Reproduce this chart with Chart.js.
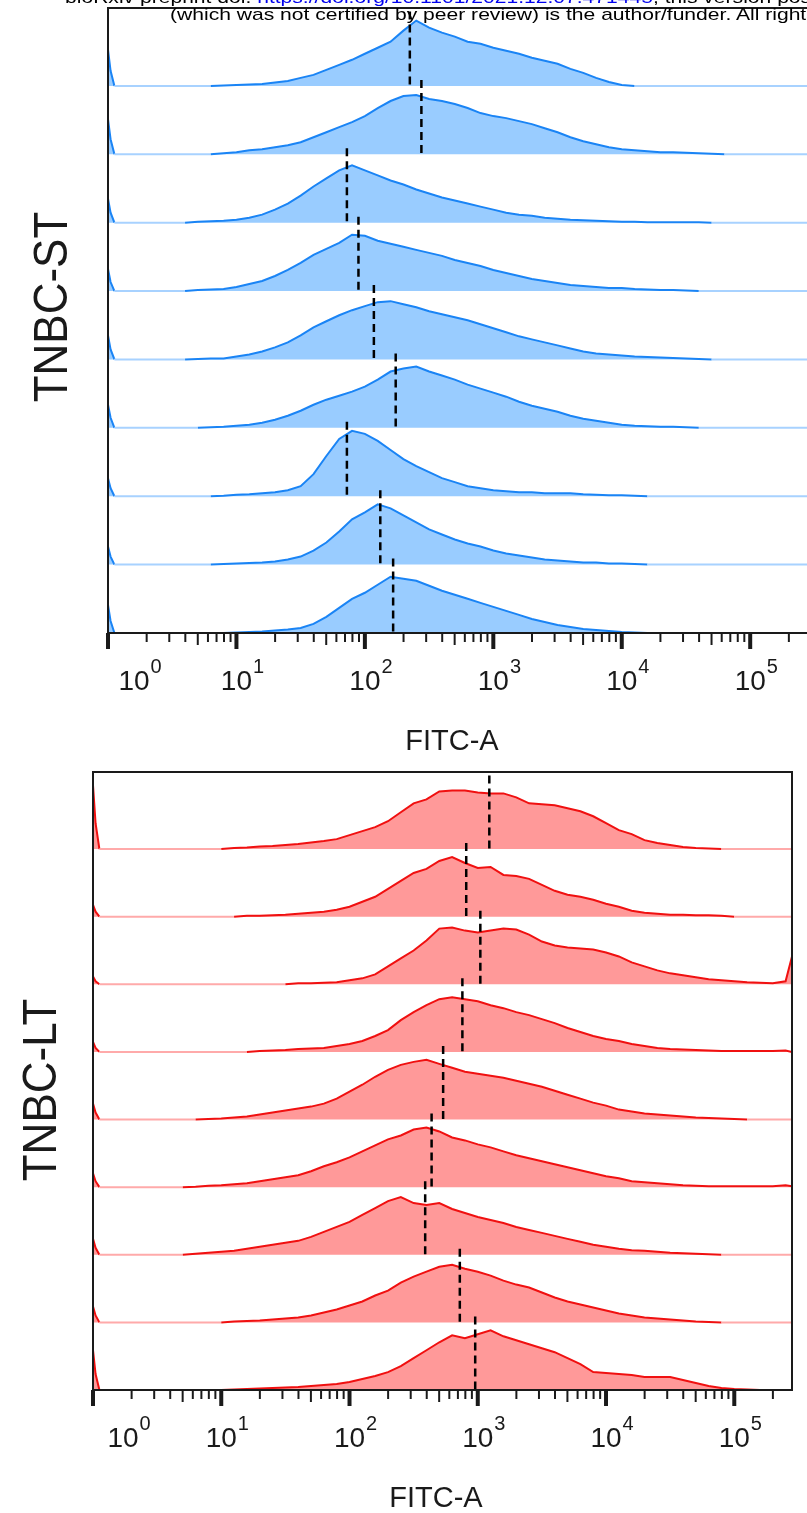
<!DOCTYPE html>
<html lang="en">
<head>
<meta charset="UTF-8">
<meta name="viewport" content="width=device-width, initial-scale=1.0">
<title>FITC-A histograms: TNBC-ST and TNBC-LT</title>
<script src="https://cdn.jsdelivr.net/npm/chart.js@4.4.1/dist/chart.umd.min.js"></script>
<style>
    html, body { margin: 0; padding: 0; background: #fff; }
    body {
        position: relative;
        width: 807px;
        height: 1513px;
        overflow: hidden;
        font-family: "Liberation Sans", Arial, sans-serif;
    }
    canvas { position: absolute; left: 0; }
    #stChart { top: 0; }
    #ltChart { top: 760px; }
    .hdr {
        position: absolute;
        white-space: nowrap;
        font-size: 17px;
        line-height: 20px;
        color: #000;
        transform-origin: 0 0;
        transform: scaleX(1.24);
    }
    .hdr a { color: #0000ee; text-decoration: none; }
    #hdr1 { left: 65px; top: -12px; }
    #hdr2 { left: 170px; top: 5px; }
</style>
</head>
<body>
<canvas id="stChart" width="812" height="760"></canvas>
<canvas id="ltChart" width="807" height="753"></canvas>

<div class="hdr" id="hdr1">bioRxiv preprint doi: <a href="#">https://doi.org/10.1101/2021.12.07.471445</a>; this version posted December 9, 2021. The copyright holder for this preprint</div>
<div class="hdr" id="hdr2">(which was not certified by peer review) is the author/funder. All rights reserved. No reuse allowed without permission.</div>

<script>
    // log10(FITC-A) positions of the histogram bins (shared by all rows)
    const fitcBins = [0, 0.02, 0.05,
        0.1, 0.2, 0.3, 0.4, 0.5, 0.6, 0.7, 0.8, 0.9,
        1.0, 1.1, 1.2, 1.3, 1.4, 1.5, 1.6, 1.7, 1.8, 1.9,
        2.0, 2.1, 2.2, 2.3, 2.4, 2.5, 2.6, 2.7, 2.8, 2.9,
        3.0, 3.1, 3.2, 3.3, 3.4, 3.5, 3.6, 3.7, 3.8, 3.9,
        4.0, 4.1, 4.2, 4.3, 4.4, 4.5, 4.6, 4.7, 4.8, 4.9,
        5.0, 5.1, 5.2, 5.3, 5.4, 5.45];

    // TNBC-ST counts per bin, top row first
    const st1 = [36,15,0, 0,0,0,0,0,0,0,0,0.5, 1,1.5,2,3.5,5,8,11,16,21,26, 32,38,44,55,65,58,53,49,44,42, 38,35,32,28,25,22,17,13,8,4, 1,0,0,0,0,0,0,0,0,0, 0,0,0,0,0,0];
    const st2 = [35,15,0, 0,0,0,0,0,0,0,0,1, 2,4,5,7,9,12,17,22,27,32, 38,46,53,58,59,55,53,50,46,41, 38,36,33,30,26,22,17,13,10,7, 5,4,3,2,2,1.5,1,0.5,0,0, 0,0,0,0,0,0];
    const st3 = [24,10,0, 0,0,0,0,0,0,1,1.5,2, 3,5,8,13,19,27,36,44,52,57, 52,47,42,38,33,29,25,22,19,16, 13,10,8,7,5,4,3,2.5,2,1.5, 1,1,0.5,0.5,0.5,0.5,0.5,0,0,0, 0,0,0,0,0,0];
    const st4 = [22,9,0, 0,0,0,0,0,0,1,1.5,2, 4,7,10,15,21,28,36,42,48,56, 55,50,47,44,41,38,35,31,28,25, 21,18,15,12,10,8,6,5,4,3, 3,2,1.5,1,1,0.5,0,0,0,0, 0,0,0,0,0,0];
    const st5 = [24,10,0, 0,0,0,0,0,0,0.5,1,1, 3,5,8,12,17,24,32,38,44,49, 53,57,58,55,52,48,45,42,39,35, 31,27,23,20,17,14,11,8,6,5, 4,3,2.5,2,1.5,1,0.5,0,0,0, 0,0,0,0,0,0];
    const st6 = [23,10,0, 0,0,0,0,0,0,0,0.5,1, 2,3,5,8,12,17,23,28,32,36, 41,48,56,59,61,56,52,48,43,39, 35,31,26,22,19,16,12,9,7,5, 3,2,1.5,1,1,0.5,0,0,0,0, 0,0,0,0,0,0];
    const st7 = [18,8,0, 0,0,0,0,0,0,0,0,0.5, 1.5,2,3,4,6,10,22,40,57,65, 62,55,46,37,30,24,18,14,10,8, 6,5,4,4,3,3,3,2,1.5,1, 1,0.5,0,0,0,0,0,0,0,0, 0,0,0,0,0,0];
    const st8 = [18,8,0, 0,0,0,0,0,0,0,0,0.5, 1,1.5,2,3,5,8,14,22,33,45, 52,60,56,49,42,35,30,25,21,18, 14,11,9,7,5,4,3,2,2,1, 1,0.5,0,0,0,0,0,0,0,0, 0,0,0,0,0,0];
    const st9 = [28,12,0, 0,0,0,0,0,0,0,0,0, 0.5,1,1.5,2.5,3.5,5,9,16,25,34, 40,48,56,54,52,47,42,38,34,30, 26,22,18,14,11,8,6,4,3,2, 1,0.5,0,0,0,0,0,0,0,0, 0,0,0,0,0,0];

    // TNBC-LT counts per bin, top row first
    const lt1 = [64,26,0, 0,0,0,0,0,0,0,0,0, 0,1,1.5,2.5,3,4,5,6.5,8,10, 14,18,22,28,37,46,50,58,59,59, 57,56,56,52,46,45,44,41,38,33, 26,19,15,9,6,4,2,1,0.5,0, 0,0,0,0,0,0];
    const lt2 = [12,5,0, 0,0,0,0,0,0,0,0,0, 0,0,1,1,1.5,2,3,4,5,7, 10,15,20,28,36,44,48,56,60,54, 49,50,42,41,38,32,26,22,20,17, 13,10,6,4,3,2,2,1.5,1.5,1, 0,0,0,0,0,0];
    const lt3 = [8,3,0, 0,0,0,0,0,0,0,0,0, 0,0,0,0,0,0,1,1,1.5,2, 4,6,10,18,26,34,44,56,57,54, 52,54,56,55,50,43,39,37,36,35, 32,28,22,18,14,11,9,7,5,4, 3,2,1.5,1,3,28];
    const lt4 = [10,4,0, 0,0,0,0,0,0,0,0,0, 0,0,0,1,1.5,2,3,3.5,4,6, 8,11,16,22,32,40,47,53,55,53, 51,47,44,40,37,33,29,24,20,16, 13,11,8,6,4,3,2.5,2,1.5,1, 1,1,1,1,1.5,0];
    const lt5 = [16,7,0, 0,0,0,0,0,0,0,0,0.5, 1,2,3,5,7,9,11,13,16,21, 28,35,43,50,55,58,60,56,52,48, 46,44,42,39,36,33,29,25,21,17, 14,10,8,6,5,4,3,2,1.5,1, 0.5,0,0,0,0,0];
    const lt6 = [14,6,0, 0,0,0,0,0,0,0,0.5,1.5, 2,3,4,6,8,10,12,16,21,25, 30,36,42,48,52,58,60,56,50,47, 43,40,36,32,29,26,23,20,17,14, 11,9,6,5,4,3,2,1.5,1,1, 1,1,1,1,2,1];
    const lt7 = [16,7,0, 0,0,0,0,0,0,0,1,2, 3,4,6,8,10,12,14,18,23,28, 33,40,47,54,58,52,50,52,46,42, 38,35,32,28,25,22,19,16,13,10, 8,6,4.5,4,3,2,1.5,1,0.5,0, 0,0,0,0,0,0];
    const lt8 = [16,7,0, 0,0,0,0,0,0,0,0,0, 0,1,1.5,2,3,4,5,7,10,13, 17,21,27,32,40,46,51,56,58,54, 51,47,42,38,35,30,25,21,18,15, 12,9,7,5,4,3,2,1,0.5,0, 0,0,0,0,0,0];
    const lt9 = [40,16,0, 0,0,0,0,0,0,0,0,0, 0,0.5,1,1.5,2,2.5,3,4,5,6, 8,11,14,18,24,32,40,48,55,52, 56,60,54,50,46,42,38,32,26,18, 17,16,15,13,13,13,10,7,4,2, 1,0.5,0,0,0,0];

    // median log10(FITC-A) per row (dashed markers)
    const stMedians = [2.35, 2.44, 1.86, 1.95, 2.07, 2.24, 1.86, 2.12, 2.22];
    const ltMedians = [3.09, 2.91, 3.02, 2.88, 2.73, 2.64, 2.59, 2.86, 2.98];

    // axis decades and minor tick multipliers
    const decades = [0, 1, 2, 3, 4, 5];
    const minorSteps = [2, 3, 4, 5, 6, 7, 8, 9];

    const X_MAX = 5.45;       // log10 of the upper display limit
    const ROW_STEP = 68;      // count offset between stacked rows
    const Y_MAX = 621.5;
    const MEDIAN_SPAN = 74;

    const FONT = '"Liberation Sans", Arial, sans-serif';

    // box, log ticks, decade labels, axis title and group label
    const flowAxes = {
        id: 'flowAxes',
        afterDraw(chart, args, o) {
            const {ctx, chartArea: a, scales: {x}} = chart;
            ctx.save();
            ctx.strokeStyle = '#1a1a1a';
            ctx.lineWidth = 2;
            ctx.strokeRect(a.left, a.top, a.right - a.left, a.bottom - a.top);

            ctx.lineCap = 'butt';
            decades.forEach(d => {
                const px = x.getPixelForValue(d);
                ctx.lineWidth = 4;
                ctx.beginPath();
                ctx.moveTo(px, a.bottom);
                ctx.lineTo(px, a.bottom + 16);
                ctx.stroke();
                minorSteps.forEach(m => {
                    const v = d + Math.log10(m);
                    if (v > X_MAX) return;
                    const mx = x.getPixelForValue(v);
                    ctx.lineWidth = 2;
                    ctx.beginPath();
                    ctx.moveTo(mx, a.bottom);
                    ctx.lineTo(mx, a.bottom + (m === 5 ? 12 : 9));
                    ctx.stroke();
                });
            });

            ctx.fillStyle = '#1a1a1a';
            ctx.textBaseline = 'alphabetic';
            decades.forEach(d => {
                let cx = x.getPixelForValue(d);
                if (d === 0) cx += o.zeroShift;
                ctx.font = `28px ${FONT}`;
                ctx.textAlign = 'center';
                ctx.fillText('10', cx, a.bottom + 57);
                const w = ctx.measureText('10').width;
                ctx.font = `20px ${FONT}`;
                ctx.textAlign = 'left';
                ctx.fillText(String(d), cx + w / 2 + 1, a.bottom + 40);
            });

            ctx.font = `29px ${FONT}`;
            ctx.textAlign = 'center';
            ctx.fillText('FITC-A', o.titleX, a.bottom + 117);

            ctx.translate(o.groupX, o.groupY);
            ctx.rotate(-Math.PI / 2);
            ctx.scale(1, 1.1);
            ctx.font = `44px ${FONT}`;
            ctx.textBaseline = 'middle';
            ctx.fillText(o.group, 0, 0);
            ctx.restore();
        }
    };

    function drawPanel(canvasId, rows, medians, colors, padding, decor) {
        const datasets = [];
        rows.forEach((counts, i) => {
            const base = (rows.length - 1 - i) * ROW_STEP;
            datasets.push({
                data: fitcBins.map((b, k) => ({x: b, y: base + counts[k]})),
                fill: {value: base},
                backgroundColor: colors.fill,
                borderColor: colors.edge,
                borderWidth: 2,
                pointRadius: 0,
                tension: 0,
                order: 2,
                segment: {
                    // empty stretches show as a pale line at the row baseline
                    borderColor: s => (s.p0.parsed.y - base < 0.5 && s.p1.parsed.y - base < 0.5) ? colors.zero : undefined
                }
            });
            datasets.push({
                data: [{x: medians[i], y: base + MEDIAN_SPAN}, {x: medians[i], y: base}],
                borderColor: '#000',
                borderWidth: 2.5,
                borderDash: [8, 5],
                pointRadius: 0,
                fill: false,
                order: 1
            });
        });

        return new Chart(document.getElementById(canvasId), {
            type: 'line',
            data: {datasets},
            options: {
                responsive: false,
                animation: false,
                devicePixelRatio: 1,
                layout: {padding},
                plugins: {
                    legend: {display: false},
                    tooltip: {enabled: false},
                    flowAxes: decor
                },
                scales: {
                    x: {type: 'linear', min: 0, max: X_MAX, display: false},
                    y: {type: 'linear', min: 0, max: Y_MAX, display: false}
                }
            },
            plugins: [flowAxes]
        });
    }

    drawPanel('stChart', [st1, st2, st3, st4, st5, st6, st7, st8, st9], stMedians,
        {fill: '#99ccff', edge: '#1a84f5', zero: '#a8d2ff'},
        {left: 108, right: 4, top: 8, bottom: 127},
        {group: 'TNBC-ST', groupX: 54, groupY: 307, titleX: 452, zeroShift: 26});

    drawPanel('ltChart', [lt1, lt2, lt3, lt4, lt5, lt6, lt7, lt8, lt9], ltMedians,
        {fill: '#ff9999', edge: '#f01010', zero: '#ffaaaa'},
        {left: 93, right: 15, top: 12, bottom: 123},
        {group: 'TNBC-LT', groupX: 43, groupY: 330, titleX: 436, zeroShift: 30});
</script>
</body>
</html>
